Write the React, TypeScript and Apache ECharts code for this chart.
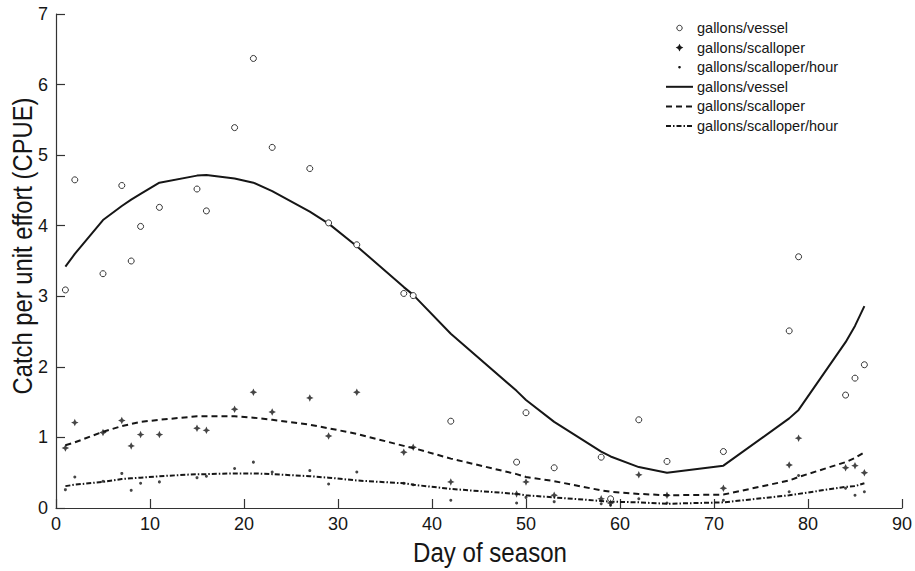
import React, { useEffect, useRef } from "react";
import * as echarts from "echarts";

const days = [1, 2, 5, 7, 8, 9, 11, 15, 16, 19, 21, 23, 27, 29, 32, 37, 38, 42, 49, 50, 53, 58, 59, 62, 65, 71, 78, 79, 84, 85, 86];
const vessel = [3.09, 4.65, 3.32, 4.57, 3.5, 3.99, 4.26, 4.52, 4.21, 5.39, 6.37, 5.11, 4.81, 4.04, 3.73, 3.04, 3.01, 1.23, 0.65, 1.35, 0.57, 0.72, 0.13, 1.25, 0.66, 0.8, 2.51, 3.56, 1.6, 1.84, 2.03];
const scalloper = [0.85, 1.21, 1.07, 1.24, 0.88, 1.04, 1.04, 1.13, 1.1, 1.4, 1.64, 1.36, 1.56, 1.02, 1.64, 0.79, 0.86, 0.37, 0.2, 0.37, 0.18, 0.13, 0.07, 0.47, 0.18, 0.28, 0.61, 0.99, 0.57, 0.6, 0.5];
const perHour = [0.26, 0.44, 0.38, 0.49, 0.25, 0.35, 0.37, 0.43, 0.45, 0.56, 0.65, 0.51, 0.53, 0.34, 0.51, 0.35, 0.33, 0.11, 0.07, 0.15, 0.09, 0.06, 0.04, 0.13, 0.07, 0.11, 0.23, 0.46, 0.28, 0.18, 0.23];
const vesselFit = [3.42, 3.6, 4.08, 4.28, 4.37, 4.45, 4.61, 4.71, 4.72, 4.67, 4.61, 4.49, 4.2, 4.03, 3.71, 3.13, 3.02, 2.47, 1.66, 1.53, 1.22, 0.8, 0.73, 0.58, 0.5, 0.6, 1.27, 1.39, 2.35, 2.58, 2.86];
const scalloperFit = [0.89, 0.93, 1.08, 1.16, 1.19, 1.22, 1.25, 1.3, 1.3, 1.3, 1.28, 1.25, 1.18, 1.13, 1.05, 0.88, 0.85, 0.7, 0.48, 0.44, 0.38, 0.25, 0.23, 0.2, 0.18, 0.19, 0.39, 0.44, 0.65, 0.71, 0.79];
const perHourFit = [0.31, 0.33, 0.37, 0.41, 0.42, 0.43, 0.45, 0.48, 0.48, 0.49, 0.49, 0.48, 0.45, 0.43, 0.39, 0.35, 0.33, 0.27, 0.2, 0.18, 0.15, 0.1, 0.09, 0.08, 0.06, 0.08, 0.18, 0.2, 0.3, 0.31, 0.35];

const legendLabels = [
  "gallons/vessel",
  "gallons/scalloper",
  "gallons/scalloper/hour",
  "gallons/vessel",
  "gallons/scalloper",
  "gallons/scalloper/hour",
];
const xTitle = "Day of season";
const yTitle = "Catch per unit effort (CPUE)";

const INK = "#161616";
const SANS = "'Liberation Sans', Arial, Helvetica, sans-serif";
const STAR = "path://M5,0L6.6,3.4L10,5L6.6,6.6L5,10L3.4,6.6L0,5L3.4,3.4Z";
const DASH = [6, 4];
const DASHDOT = [5, 2, 1.5, 2];

const pairs = (ys: number[]) => days.map((d, i) => [d, ys[i]]);

export default function App() {
  const ref = useRef<HTMLDivElement>(null);
  useEffect(() => {
    if (!ref.current) return;
    const chart = echarts.init(ref.current, null, { renderer: "svg" });

    const lx0 = 666;
    const lx1 = 693;
    const lcx = 679.5;
    const ltx = 697;
    const rowY = (i: number) => 28 + i * 19.6;
    const g: any[] = [];
    legendLabels.forEach((t, i) => {
      g.push({
        type: "text",
        x: ltx,
        y: rowY(i),
        style: { text: t, font: `14.5px ${SANS}`, fill: INK, verticalAlign: "middle", align: "left" },
      });
    });
    g.push({ type: "circle", shape: { cx: lcx, cy: rowY(0), r: 2.7 }, style: { fill: "#fff", stroke: "#333", lineWidth: 1 } });
    const s = 3.8;
    const c = 1.3;
    const cy1 = rowY(1);
    g.push({
      type: "polygon",
      shape: {
        points: [
          [lcx, cy1 - s], [lcx + c, cy1 - c], [lcx + s, cy1], [lcx + c, cy1 + c],
          [lcx, cy1 + s], [lcx - c, cy1 + c], [lcx - s, cy1], [lcx - c, cy1 - c],
        ],
      },
      style: { fill: INK },
    });
    g.push({ type: "circle", shape: { cx: lcx, cy: rowY(2), r: 1.3 }, style: { fill: INK } });
    g.push({ type: "line", shape: { x1: lx0, y1: rowY(3), x2: lx1, y2: rowY(3) }, style: { stroke: INK, lineWidth: 2 } });
    g.push({ type: "line", shape: { x1: lx0, y1: rowY(4), x2: lx1, y2: rowY(4) }, style: { stroke: INK, lineWidth: 2, lineDash: DASH } });
    g.push({ type: "line", shape: { x1: lx0, y1: rowY(5), x2: lx1, y2: rowY(5) }, style: { stroke: INK, lineWidth: 2, lineDash: DASHDOT } });

    // axis titles (condensed look)
    g.push({
      type: "text",
      x: 490,
      y: 552,
      scaleX: 0.86,
      style: { text: xTitle, font: `28px ${SANS}`, fill: INK, align: "center", verticalAlign: "middle" },
    });
    g.push({
      type: "text",
      x: 22,
      y: 246,
      rotation: Math.PI / 2,
      scaleX: 0.85,
      style: { text: yTitle, font: `28px ${SANS}`, fill: INK, align: "center", verticalAlign: "middle" },
    });

    chart.setOption({
      animation: false,
      backgroundColor: "#fff",
      grid: { left: 56, right: 11, top: 14, bottom: 63, containLabel: false },
      xAxis: {
        type: "value",
        min: 0,
        max: 90,
        interval: 10,
        axisLine: { show: true, lineStyle: { color: "#333", width: 1.2 } },
        axisTick: { show: true, inside: true, length: 9, lineStyle: { color: "#333", width: 1.2 } },
        axisLabel: { fontFamily: SANS, fontSize: 18, color: INK, margin: 7 },
        splitLine: { show: false },
      },
      yAxis: {
        type: "value",
        min: 0,
        max: 7,
        interval: 1,
        axisLine: { show: true, lineStyle: { color: "#333", width: 1.2 } },
        axisTick: { show: true, inside: true, length: 9, lineStyle: { color: "#333", width: 1.2 } },
        axisLabel: { fontFamily: SANS, fontSize: 18, color: INK, margin: 8 },
        splitLine: { show: false },
      },
      series: [
        {
          name: "vessel-fit",
          type: "line",
          data: pairs(vesselFit),
          symbol: "none",
          lineStyle: { color: INK, width: 2, type: "solid" },
          z: 2,
        },
        {
          name: "scalloper-fit",
          type: "line",
          data: pairs(scalloperFit),
          symbol: "none",
          lineStyle: { color: INK, width: 2, type: DASH },
          z: 2,
        },
        {
          name: "perhour-fit",
          type: "line",
          data: pairs(perHourFit),
          symbol: "none",
          lineStyle: { color: INK, width: 2, type: DASHDOT },
          z: 2,
        },
        {
          name: "vessel-obs",
          type: "scatter",
          data: pairs(vessel),
          symbol: "circle",
          symbolSize: 6,
          itemStyle: { color: "#fff", borderColor: "#333", borderWidth: 1, opacity: 1 },
          z: 3,
        },
        {
          name: "scalloper-obs",
          type: "scatter",
          data: pairs(scalloper),
          symbol: STAR,
          symbolSize: 7.5,
          itemStyle: { color: INK },
          z: 3,
        },
        {
          name: "perhour-obs",
          type: "scatter",
          data: pairs(perHour),
          symbol: "circle",
          symbolSize: 3,
          itemStyle: { color: INK },
          z: 3,
        },
      ],
      graphic: g,
    });
    return () => chart.dispose();
  }, []);
  return <div ref={ref} style={{ position: "fixed", left: 0, top: 0, width: 915, height: 571 }} />;
}
